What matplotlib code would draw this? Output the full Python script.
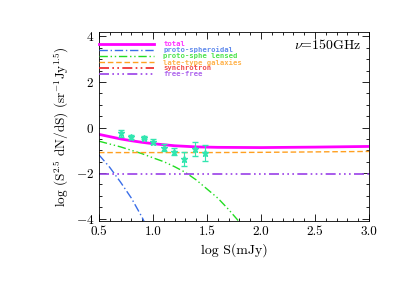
import matplotlib
matplotlib.use("Agg")
import matplotlib.pyplot as plt
from matplotlib.ticker import MultipleLocator

plt.rcParams['font.family'] = ['cmr10', 'DejaVu Serif']
plt.rcParams['mathtext.fontset'] = 'cm'
plt.rcParams['axes.formatter.use_mathtext'] = True

# data points (log S, log counts) with errors
obs_x = [0.70, 0.80, 0.92, 1.00, 1.10, 1.19, 1.29, 1.39, 1.48]
obs_y = [-0.25, -0.41, -0.44, -0.62, -0.89, -1.07, -1.39, -0.95, -1.10]
obs_err = [0.15, 0.08, 0.08, 0.10, 0.15, 0.15, 0.30, 0.30, 0.35]

# model curves
total_x = [0.5, 0.6, 0.7, 0.8, 0.9, 1.0, 1.2, 1.4, 1.6, 2.0, 2.5, 3.0]
total_y = [-0.30, -0.40, -0.50, -0.58, -0.65, -0.71, -0.80, -0.85, -0.87, -0.88, -0.86, -0.83]

sph_x = [0.5, 0.6, 0.7, 0.8, 0.9, 0.93]
sph_y = [-1.20, -1.75, -2.40, -3.10, -3.95, -4.25]

lens_x = [0.5, 0.7, 0.9, 1.0, 1.1, 1.2, 1.3, 1.4, 1.5, 1.6, 1.7, 1.8, 1.82]
lens_y = [-0.60, -0.85, -1.15, -1.33, -1.50, -1.72, -1.97, -2.30, -2.70, -3.10, -3.60, -4.15, -4.25]

late_x = [0.5, 1.0, 1.5, 2.0, 2.5, 3.0]
late_y = [-1.10, -1.10, -1.10, -1.09, -1.07, -1.05]

sync_x = [0.5, 3.0]
sync_y = [-4.6, -4.4]

ff_x = [0.5, 3.0]
ff_y = [-2.03, -2.03]

fig = plt.figure(figsize=(3.99, 2.85), dpi=100)
ax = fig.add_axes([0.248, 0.225, 0.677, 0.663])

ax.plot(total_x, total_y, color='#ff00ff', lw=2.0, label='total')
ax.plot(sph_x, sph_y, color='#3a6ee8', lw=1.0, dashes=[6, 2, 1, 2], label='proto-spheroidal')
ax.plot(lens_x, lens_y, color='#22dd22', lw=1.0, dashes=[6, 2, 1, 2, 1, 2], label='proto-sphe lensed')
ax.plot(late_x, late_y, color='#ffa020', lw=1.0, dashes=[4, 2], label='late-type galaxies')
ax.plot(sync_x, sync_y, color='#ee2222', lw=1.2, dashes=[6, 2, 1, 2, 1, 2], label='synchrotron')
ax.plot(ff_x, ff_y, color='#9a40e8', lw=1.2, dashes=[6, 2, 1, 2, 1, 2, 1, 2], label='free-free')

ax.errorbar(obs_x, obs_y, yerr=obs_err, fmt='*', color='#33e6b0', ms=5,
            elinewidth=0.8, capsize=2, mec='#33e6b0')

ax.set_xlim(0.5, 3.0)
ax.set_ylim(-4.1, 4.2)
ax.xaxis.set_major_locator(MultipleLocator(0.5))
ax.xaxis.set_minor_locator(MultipleLocator(0.1))
ax.yaxis.set_major_locator(MultipleLocator(2))
ax.yaxis.set_minor_locator(MultipleLocator(0.5))
ax.xaxis.set_major_formatter(matplotlib.ticker.FormatStrFormatter('%.1f'))
ax.tick_params(which='both', direction='in', top=True, right=True, labelsize=9.5)
ax.tick_params(which='major', length=5, width=0.6)
ax.tick_params(which='minor', length=2.5, width=0.6)
for s in ax.spines.values():
    s.set_linewidth(0.6)

ax.set_xlabel('log S(mJy)', fontsize=10)
ax.set_ylabel(r'log (S$^{2.5}$ dN/dS) (sr$^{-1}$Jy$^{1.5}$)', fontsize=9.5)

ax.text(0.97, 0.93, r'$\nu$=150GHz', transform=ax.transAxes, ha='right', va='center', fontsize=10)

leg = ax.legend(loc='upper left', bbox_to_anchor=(-0.01, 0.968), frameon=False,
                prop={'family': 'DejaVu Sans Mono', 'weight': 'bold', 'size': 5.2},
                handlelength=7.6, handleheight=0.5, handletextpad=1.3,
                labelspacing=-0.05, borderaxespad=0.0)
for txt, line in zip(leg.get_texts(), leg.get_lines()):
    txt.set_color(line.get_color())
    txt.set_alpha(0.8)

fig.savefig('out.png', dpi=100)
